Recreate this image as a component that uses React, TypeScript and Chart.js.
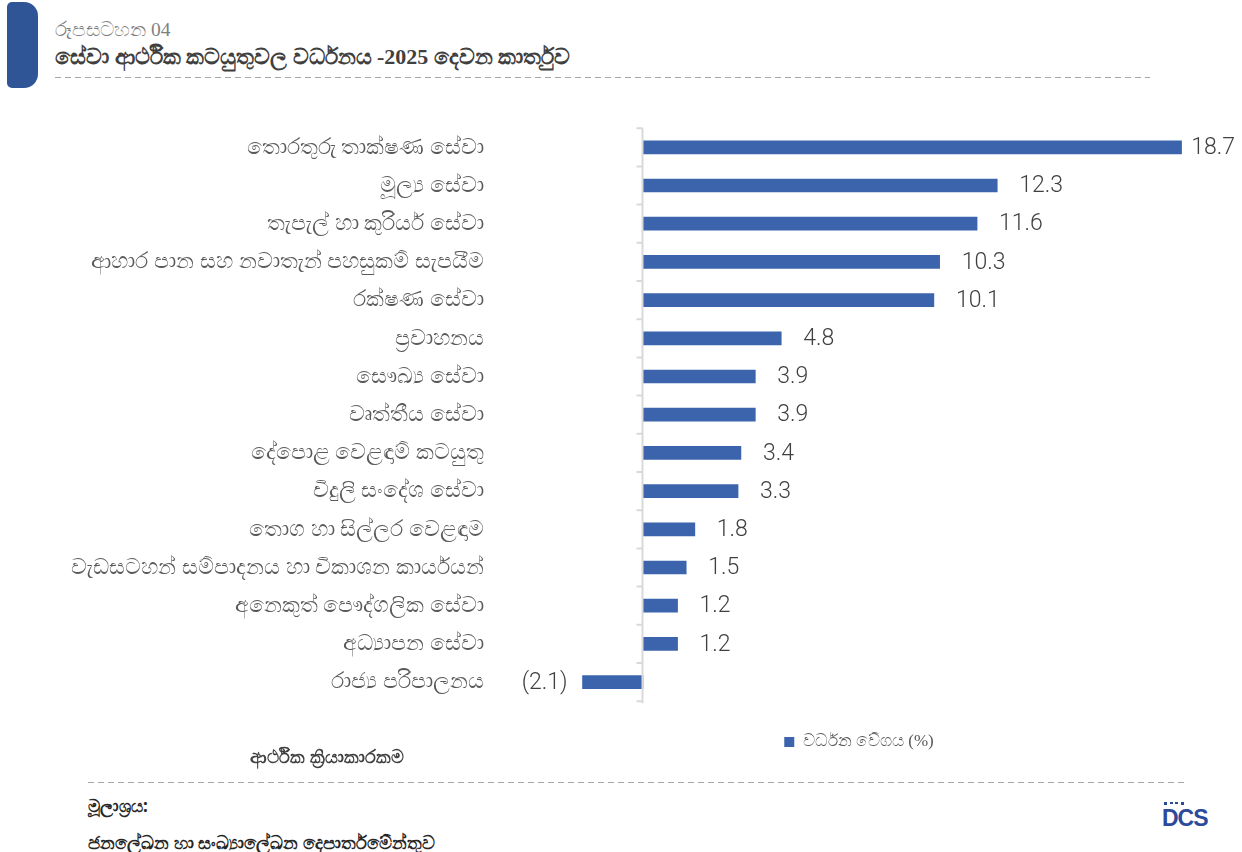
import React, { useEffect, useRef } from "react";
import { Chart, registerables } from "chart.js";

Chart.register(...registerables);

const categories = [
  "තොරතුරු තාක්ෂණ සේවා",
  "මූල්‍ය සේවා",
  "තැපැල් හා කුරියර් සේවා",
  "ආහාර පාන සහ නවාතැන් පහසුකම් සැපයීම",
  "රක්ෂණ සේවා",
  "ප්‍රවාහනය",
  "සෞඛ්‍ය සේවා",
  "වෘත්තීය සේවා",
  "දේපොළ වෙළඳාම් කටයුතු",
  "විදුලි සංදේශ සේවා",
  "තොග හා සිල්ලර වෙළඳාම",
  "වැඩසටහන් සම්පාදනය හා විකාශන කාර්යයන්",
  "අනෙකුත් පෞද්ගලික සේවා",
  "අධ්‍යාපන සේවා",
  "රාජ්‍ය පරිපාලනය",
];

const growthValues = [18.7, 12.3, 11.6, 10.3, 10.1, 4.8, 3.9, 3.9, 3.4, 3.3, 1.8, 1.5, 1.2, 1.2, -2.1];

const seriesLabel = "වර්ධන වේගය (%)";
const figureNumber = "රූපසටහන 04";
const figureTitle = "සේවා ආර්ථික කටයුතුවල වර්ධනය -2025 දෙවන කාර්තුව";
const axisTitle = "ආර්ථික ක්‍රියාකාරකම";
const sourceLabel = "මූලාශ්‍රය:";
const sourceText = "ජනලේඛන හා සංඛ්‍යාලේඛන දෙපාර්තමේන්තුව";

const xMin = -5;
const xMax = 20;

const BAR_COLOR = "#3b64ad";
const SINHALA_FONT = "'Noto Sans', 'DejaVu Sans', sans-serif";

function formatValue(v: number): string {
  return v < 0 ? `(${Math.abs(v).toFixed(1)})` : v.toFixed(1);
}

const axisLinePlugin = {
  id: "zeroAxisLine",
  afterDatasetsDraw(chart: any) {
    const { ctx, chartArea } = chart;
    const xs = chart.scales.x;
    const x0 = Math.round(xs.getPixelForValue(0)) - 0.5;
    const n = categories.length;
    const h = (chartArea.bottom - chartArea.top) / n;
    ctx.save();
    ctx.strokeStyle = "#d9d9d9";
    ctx.lineWidth = 2;
    ctx.beginPath();
    ctx.moveTo(x0, chartArea.top);
    ctx.lineTo(x0, chartArea.bottom + 2);
    for (let i = 0; i <= n; i++) {
      const y = chartArea.top + i * h;
      ctx.moveTo(x0 - 6, y);
      ctx.lineTo(x0, y);
    }
    ctx.stroke();
    ctx.restore();
  },
};

const valueLabelPlugin = {
  id: "valueLabels",
  afterDatasetsDraw(chart: any) {
    const { ctx } = chart;
    const meta = chart.getDatasetMeta(0);
    ctx.save();
    ctx.font = "300 23px Roboto, 'Noto Sans', sans-serif";
    ctx.fillStyle = "#404040";
    ctx.textBaseline = "middle";
    meta.data.forEach((bar: any, i: number) => {
      const v = growthValues[i];
      const text = formatValue(v);
      const w = ctx.measureText(text).width;
      if (v >= 0) {
        let x = bar.x + 22;
        if (x + w > chart.width - 7) x = chart.width - 7 - w;
        ctx.textAlign = "left";
        ctx.fillText(text, x, bar.y + 1);
      } else {
        ctx.textAlign = "right";
        ctx.fillText(text, bar.x - 15, bar.y + 1);
      }
    });
    ctx.restore();
  },
};

function dashedLine(left: number, top: number, width: number): React.CSSProperties {
  return {
    position: "absolute",
    left,
    top,
    width,
    height: 1,
    backgroundImage: "linear-gradient(to right, #a6a6a6 0, #a6a6a6 6px, transparent 6px)",
    backgroundSize: "10px 1px",
    backgroundRepeat: "repeat-x",
  };
}

export default function App() {
  const canvasRef = useRef<HTMLCanvasElement | null>(null);

  useEffect(() => {
    if (!canvasRef.current) return;
    const chart = new Chart(canvasRef.current, {
      type: "bar",
      data: {
        labels: categories,
        datasets: [
          {
            label: seriesLabel,
            data: growthValues,
            backgroundColor: BAR_COLOR,
            borderWidth: 0,
            barThickness: 13,
          },
        ],
      },
      options: {
        indexAxis: "y",
        animation: false,
        responsive: true,
        maintainAspectRatio: false,
        layout: { padding: { top: 26.8, right: 23, bottom: 9.5, left: 0 } },
        scales: {
          x: {
            type: "linear",
            min: xMin,
            max: xMax,
            display: false,
          },
          y: {
            type: "category",
            offset: true,
            grid: { display: false, drawTicks: false },
            border: { display: false },
            ticks: {
              padding: 15,
              color: "#595959",
              font: { size: 22, family: SINHALA_FONT },
            },
            afterFit: (scale: any) => {
              scale.width = 499;
            },
          },
        },
        plugins: {
          legend: {
            display: true,
            position: "bottom",
            fullSize: false,
            labels: {
              boxWidth: 10,
              boxHeight: 10,
              padding: 32.3,
              color: "#595959",
              font: { size: 17, family: "'Liberation Serif', " + SINHALA_FONT },
            },
          },
          tooltip: { enabled: false },
        },
      },
      plugins: [axisLinePlugin, valueLabelPlugin],
    });
    return () => chart.destroy();
  }, []);

  return (
    <div
      style={{
        position: "absolute",
        left: 0,
        top: 0,
        width: 1242,
        height: 852,
        background: "#ffffff",
        overflow: "hidden",
        fontFamily: SINHALA_FONT,
      }}
    >
      <div
        style={{
          position: "absolute",
          left: 7,
          top: 2,
          width: 31,
          height: 86,
          background: "#2f5597",
          borderRadius: "5px 14px 14px 5px",
        }}
      />
      <div
        style={{
          position: "absolute",
          left: 55,
          top: 18,
          fontSize: 19.5,
          lineHeight: "24px",
          color: "#7f7f7f",
          fontFamily: "'Liberation Serif', " + SINHALA_FONT,
          whiteSpace: "nowrap",
        }}
      >
        {figureNumber}
      </div>
      <div
        style={{
          position: "absolute",
          left: 55,
          top: 43,
          fontSize: 22,
          lineHeight: "28px",
          fontWeight: "bold",
          color: "#404040",
          fontFamily: "'Liberation Serif', " + SINHALA_FONT,
          whiteSpace: "nowrap",
        }}
      >
        {figureTitle}
      </div>
      <div style={dashedLine(55, 77, 1095)} />

      <div style={{ position: "absolute", left: 0, top: 100, width: 1242, height: 670 }}>
        <canvas ref={canvasRef} />
      </div>

      <div
        style={{
          position: "absolute",
          left: 250,
          top: 744,
          fontSize: 18,
          lineHeight: "24px",
          fontWeight: 600,
          color: "#404040",
          whiteSpace: "nowrap",
        }}
      >
        {axisTitle}
      </div>

      <div style={dashedLine(88, 782, 1097)} />

      <div
        style={{
          position: "absolute",
          left: 88,
          top: 794,
          fontSize: 17,
          lineHeight: "24px",
          fontWeight: "bold",
          color: "#262626",
          whiteSpace: "nowrap",
        }}
      >
        {sourceLabel}
      </div>
      <div
        style={{
          position: "absolute",
          left: 88,
          top: 830,
          fontSize: 18,
          lineHeight: "24px",
          fontWeight: 600,
          color: "#262626",
          whiteSpace: "nowrap",
        }}
      >
        {sourceText}
      </div>

      <div style={{ position: "absolute", left: 1162, top: 801, width: 46, height: 30 }}>
        <div style={{ position: "absolute", left: 2, top: 1, width: 3, height: 3, background: "#2b4a9a" }} />
        <div style={{ position: "absolute", left: 8, top: 1, width: 3, height: 2, background: "#2b4a9a" }} />
        <div style={{ position: "absolute", left: 13, top: 1, width: 3, height: 2, background: "#2b4a9a" }} />
        <div style={{ position: "absolute", left: 19, top: 1, width: 3, height: 3, background: "#2b4a9a" }} />
        <div
          style={{
            position: "absolute",
            left: 0,
            top: 5,
            fontFamily: "'Liberation Sans', Arial, sans-serif",
            fontWeight: "bold",
            fontSize: 23,
            lineHeight: "24px",
            letterSpacing: -1,
            color: "#2b4a9a",
          }}
        >
          DCS
        </div>
      </div>
    </div>
  );
}
